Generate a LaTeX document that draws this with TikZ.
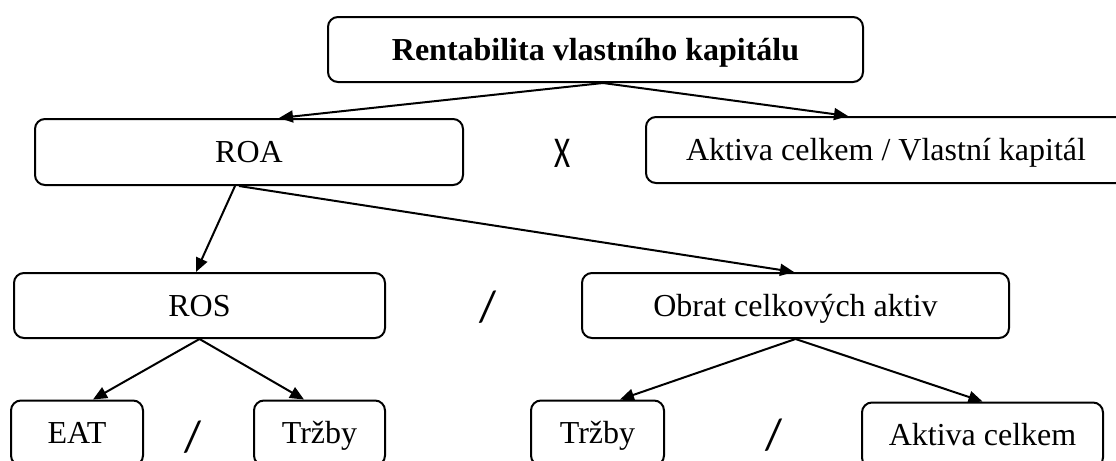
\documentclass[tikz,border=0pt]{standalone}
\usepackage{fontspec}
\setmainfont{Liberation Serif}
\newfontfamily\opfont{Carlito}
\usetikzlibrary{arrows.meta,calc}

\begin{document}
\begin{tikzpicture}[x=0.5pt, y=-0.5pt,
    box/.style={draw, line width=1pt, rounded corners=5pt, inner sep=0pt, text height=10.6pt, text depth=0pt},
    link/.style={line width=1pt, -{Triangle[length=7pt,width=6pt]}},
    op/.style={inner sep=0pt, font=\opfont\fontsize{22}{26}\selectfont}]

  \fontsize{16}{19}\selectfont

  \newcommand\PX{0.5pt}

  \clip (0,0) rectangle (1116,461);

  %% level 0
  \node[box, minimum width=535*\PX, minimum height=65*\PX] (rok) at (595.5,49.5) {\textbf{Rentabilita vlastního kapitálu}};

  %% level 1
  \node[box, minimum width=428*\PX, minimum height=66*\PX] (roa) at (249,152) {ROA};
  \node[box, minimum width=480*\PX, minimum height=66*\PX] (akvk) at (886,150) {Aktiva celkem / Vlastní kapitál};
  \node[op] (opx) at (562,153) {\scalebox{0.7}[1]{X}};

  %% level 2
  \node[box, minimum width=371*\PX, minimum height=65*\PX] (ros) at (199.5,305.5) {ROS};
  \node[box, minimum width=427*\PX, minimum height=65*\PX] (obrat) at (795.5,305.5) {Obrat celkových aktiv};
  \node[op] (opa) at (488,307) {/};

  %% level 3
  \node[box, minimum width=132*\PX, minimum height=65*\PX] (eat) at (77,433) {EAT};
  \node[box, minimum width=131*\PX, minimum height=65*\PX] (trzbya) at (319.5,433) {Tržby};
  \node[op] (opb) at (193,437) {/};
  \node[box, minimum width=133*\PX, minimum height=65*\PX] (trzbyb) at (597.5,433) {Tržby};
  \node[box, minimum width=241*\PX, minimum height=65*\PX] (akc) at (982.5,435) {Aktiva celkem};
  \node[op] (opc) at (774,435) {/};

  \draw[link] ($(rok.south)+(7.5,0)$) -- ($(roa.north)+(30,0)$); %% rok->roa
  \draw[link] ($(rok.south)+(7.5,0)$) -- ($(akvk.north)+(-38,0)$); %% rok->akvk

  \draw[link] ($(roa.south)+(-14,0)$) -- ($(ros.north)+(-3.5,0)$); %% roa->ros
  \draw[link] ($(roa.south)+(-10,0)$) -- ($(obrat.north)+(-1.5,0)$); %% roa->obrat

  \draw[link] (ros.south) -- ($(eat.north)+(16,0)$); %% ros->eat
  \draw[link] (ros.south) -- ($(trzbya.north)+(-15.5,0)$); %% ros->trzby

  \draw[link] (obrat.south) -- ($(trzbyb.north)+(22.5,0)$); %% obrat->trzby
  \draw[link] (obrat.south) -- (akc.north); %% obrat->akc

\end{tikzpicture}
\end{document}
